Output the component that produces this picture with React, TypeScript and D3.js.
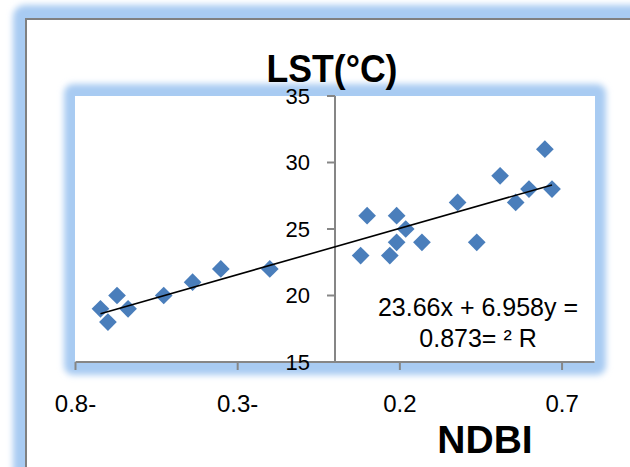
import React from "react";
import * as d3 from "d3";

// NDBI (x) vs LST (y)
const ndbi = [-0.723, -0.7, -0.672, -0.638, -0.528, -0.439, -0.352, -0.201, 0.079, 0.099, 0.169, 0.19, 0.19, 0.218, 0.268, 0.378, 0.437, 0.509, 0.557, 0.598, 0.647, 0.669];
const lst = [19, 18, 20, 19, 20, 21, 22, 22, 23, 26, 23, 24, 26, 25, 24, 27, 24, 29, 27, 28, 31, 28];

const xTicks = [-0.8, -0.3, 0.2, 0.7];
const xTickLabels = ["0.8-", "0.3-", "0.2", "0.7"];
const yTicks = [15, 20, 25, 30, 35];
const yTickLabels = ["15", "20", "25", "30", "35"];

const slope = 6.958;
const intercept = 23.66;
const eqLines = ["23.66x + 6.958y =", "0.873= \u00b2 R"];

const W = 630;
const H = 467;
const font = "'Liberation Sans', Arial, sans-serif";

export default function App() {
  const x = d3.scaleLinear().domain([-0.8, 0.8]).range([75.5, 594.5]);
  const y = d3.scaleLinear().domain([15, 35]).range([362, 96]);

  const points = ndbi.map((v, i) => ({ x: v, y: lst[i] }));
  const diamond = d3.symbol().type(d3.symbolDiamond2).size(200)();

  const xExt = d3.extent(ndbi) as [number, number];
  const trend = d3
    .line<number>()
    .x((d) => x(d))
    .y((d) => y(intercept + slope * d));

  const axisColor = "#868686";
  const x0 = x(0);

  return (
    <svg width={W} height={H} style={{ position: "absolute", left: 0, top: 0 }}>
      <defs>
        <filter id="glow" x="-20%" y="-20%" width="140%" height="140%">
          <feGaussianBlur stdDeviation="3" />
        </filter>
      </defs>

      {/* outer frame */}
      <rect x={13} y={5} width={800} height={600} rx={12} fill="#a8cbf2" filter="url(#glow)" />
      <rect x={26} y={19} width={800} height={600} fill="#fff" stroke="#808080" strokeWidth={2} />

      {/* plot area */}
      <rect x={64} y={84} width={542} height={291} rx={9} fill="#a8cbf2" filter="url(#glow)" />
      <rect x={75} y={96} width={520} height={266} fill="#fff" />

      <text x={332} y={82} textAnchor="middle" fontFamily={font} fontWeight="bold" fontSize={39} textLength={131} lengthAdjust="spacingAndGlyphs">
        LST(°C)
      </text>

      {/* x axis */}
      <line x1={x.range()[0]} x2={x.range()[1]} y1={y(15)} y2={y(15)} stroke={axisColor} strokeWidth={2} />
      {xTicks.map((t, i) => (
        <g key={"xt" + i}>
          <line x1={x(t)} x2={x(t)} y1={y(15)} y2={y(15) + 8} stroke={axisColor} strokeWidth={2} />
          <text x={x(t)} y={412} textAnchor="middle" fontFamily={font} fontSize={24}>
            {xTickLabels[i]}
          </text>
        </g>
      ))}

      {/* y axis */}
      <line x1={x0} x2={x0} y1={y(35)} y2={y(15)} stroke={axisColor} strokeWidth={2} />
      {yTicks.map((t, i) => (
        <g key={"yt" + i}>
          <line x1={x0 - 8} x2={x0} y1={y(t)} y2={y(t)} stroke={axisColor} strokeWidth={2} />
          <text x={310} y={y(t)} dy="0.36em" textAnchor="end" fontFamily={font} fontSize={22}>
            {yTickLabels[i]}
          </text>
        </g>
      ))}

      {points.map((p, i) => (
        <path key={"p" + i} d={diamond!} transform={`translate(${x(p.x)},${y(p.y)})`} fill="#4a7ebb" />
      ))}

      <path d={trend(xExt)!} stroke="#000" strokeWidth={1.6} fill="none" />

      {eqLines.map((s, i) => (
        <text key={"eq" + i} x={478} y={316 + i * 30.5} textAnchor="middle" fontFamily={font} fontSize={25}>
          {s}
        </text>
      ))}

      <text x={485} y={453} textAnchor="middle" fontFamily={font} fontWeight="bold" fontSize={39}>
        NDBI
      </text>
    </svg>
  );
}
